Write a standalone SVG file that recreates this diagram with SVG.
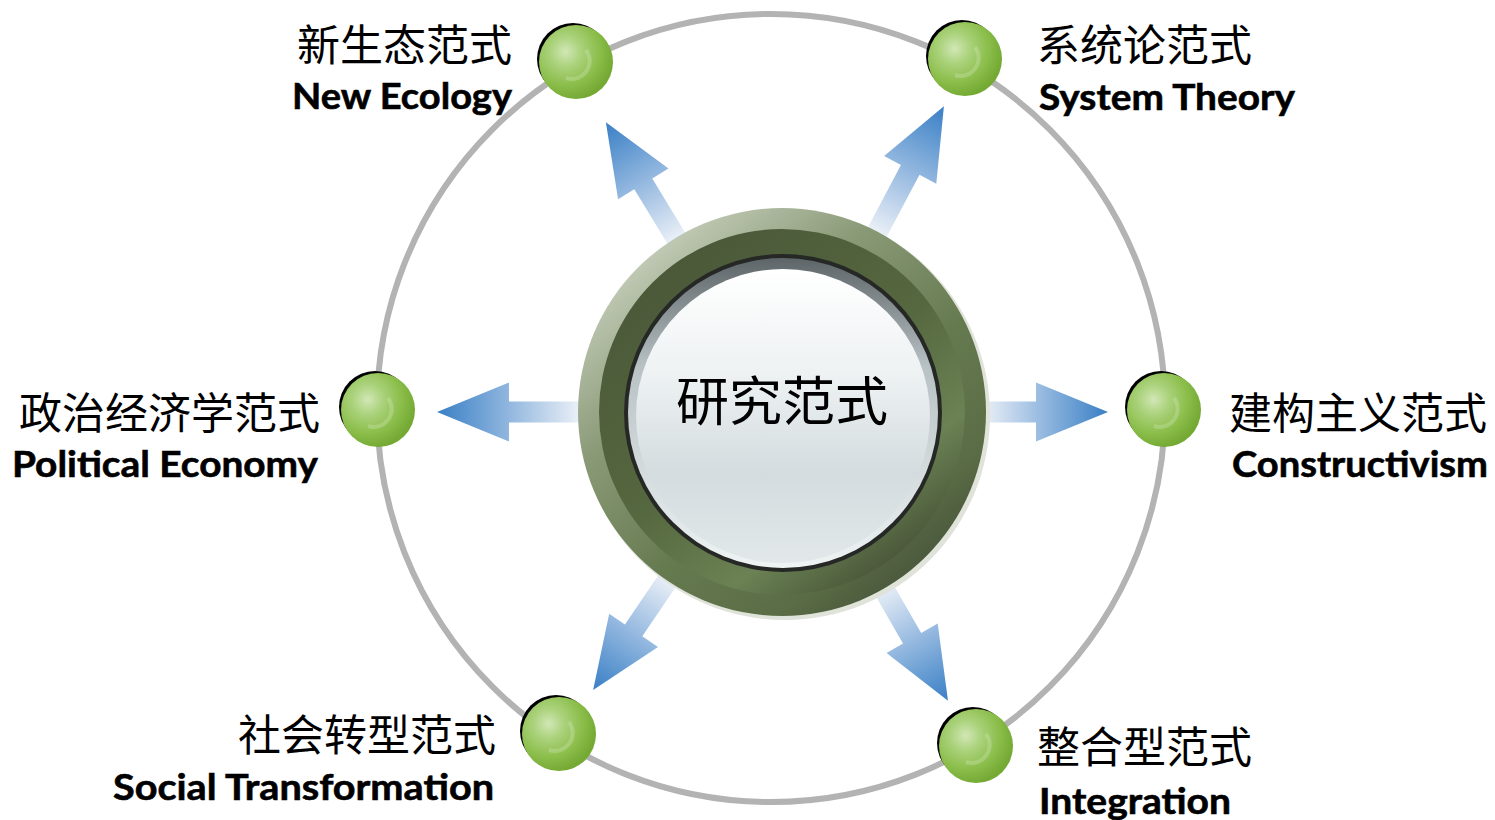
<svg xmlns="http://www.w3.org/2000/svg" width="1495" height="820" viewBox="0 0 1495 820">
<defs>
<style>
.zh{font-family:"Noto Sans CJK SC","Noto Sans",sans-serif;font-size:43px;fill:#000;}
.en{font-family:Lato,"Open Sans","Liberation Sans",sans-serif;font-weight:700;font-size:37px;fill:#000;stroke:#000;stroke-width:0.6;}
.arrow{fill:url(#ag);}
.shadow{fill:#000;}
.ball{fill:url(#bg);}
.crescent{fill:none;stroke:#d8ebc0;stroke-width:4;opacity:0.3;}
</style>
<linearGradient id="ag" x1="0" y1="0" x2="1" y2="0">
<stop offset="0" stop-color="#ffffff"/>
<stop offset="0.12" stop-color="#e3ebf5"/>
<stop offset="0.55" stop-color="#8fb5de"/>
<stop offset="0.75" stop-color="#689dd3"/>
<stop offset="1" stop-color="#3a7fc6"/>
</linearGradient>
<radialGradient id="bg" cx="0.36" cy="0.36" r="0.66">
<stop offset="0" stop-color="#d2e7b6"/>
<stop offset="0.3" stop-color="#acd37e"/>
<stop offset="0.7" stop-color="#8abd49"/>
<stop offset="1" stop-color="#74a934"/>
</radialGradient>
<linearGradient id="ring1" x1="0.15" y1="0.08" x2="0.85" y2="0.92">
<stop offset="0" stop-color="#c8d0bd"/>
<stop offset="0.3" stop-color="#8a9a77"/>
<stop offset="0.6" stop-color="#667a50"/>
<stop offset="0.85" stop-color="#5a6c45"/>
<stop offset="1" stop-color="#46533a"/>
</linearGradient>
<linearGradient id="ring2" x1="0.2" y1="0.1" x2="0.8" y2="0.9">
<stop offset="0" stop-color="#4b5939"/>
<stop offset="0.5" stop-color="#56683f"/>
<stop offset="0.8" stop-color="#6b8254"/>
<stop offset="1" stop-color="#4c5a3b"/>
</linearGradient>
<linearGradient id="bevel" x1="0" y1="0" x2="0" y2="1">
<stop offset="0" stop-color="#5d6568"/>
<stop offset="0.35" stop-color="#b8c1c4"/>
<stop offset="1" stop-color="#eef3f4"/>
</linearGradient>
<linearGradient id="face" x1="0" y1="0" x2="0" y2="1">
<stop offset="0" stop-color="#ffffff"/>
<stop offset="0.35" stop-color="#eef2f3"/>
<stop offset="0.7" stop-color="#d4dcdf"/>
<stop offset="1" stop-color="#e2e8ea"/>
</linearGradient>
</defs>
<rect width="1495" height="820" fill="#ffffff"/>

<circle id="orbit" cx="771" cy="408" r="394" fill="none" stroke="#b3b3b3" stroke-width="6"/>

<g id="connectors">
<polygon class="arrow" transform="translate(782 412) rotate(180)" points="190,-10.5 273,-10.5 273,-29.5 345,0 273,29.5 273,10.5 190,10.5"/>
<polygon class="arrow" transform="translate(782 412) rotate(0)" points="190,-10.5 254,-10.5 254,-29.5 326,0 254,29.5 254,10.5 190,10.5"/>
<polygon class="arrow" transform="translate(782 412) rotate(-121.3)" points="190,-10.5 267,-10.5 267,-29.5 339,0 267,29.5 267,10.5 190,10.5"/>
<polygon class="arrow" transform="translate(782 412) rotate(-62.1)" points="190,-10.5 274,-10.5 274,-29.5 346,0 274,29.5 274,10.5 190,10.5"/>
<polygon class="arrow" transform="translate(782 412) rotate(124.2)" points="190,-10.5 264,-10.5 264,-29.5 336,0 264,29.5 264,10.5 190,10.5"/>
<polygon class="arrow" transform="translate(782 412) rotate(60.1)" points="190,-10.5 261,-10.5 261,-29.5 333,0 261,29.5 261,10.5 190,10.5"/>
</g>

<g id="center">
<circle cx="785" cy="415" r="205" fill="#dfe3da"/>
<circle cx="782" cy="412" r="204" fill="url(#ring1)"/>
<circle cx="782" cy="412" r="183" fill="url(#ring2)"/>
<circle cx="783" cy="413" r="159" fill="#262826"/>
<circle cx="783" cy="413" r="155" fill="url(#bevel)"/>
<circle cx="783" cy="416" r="147" fill="url(#face)"/>
<text x="782" y="421" text-anchor="middle" style="font-family:'Noto Sans CJK SC',sans-serif;font-size:53px;fill:#000;">研究范式</text>
</g>

<g id="n-ecology">
<circle class="shadow" cx="573" cy="59" r="36"/>
<circle class="ball" cx="576" cy="62" r="37"/>
<path class="crescent" d="M586,50 A18,18 0 0 1 566,78"/>
<text class="zh" x="512" y="61" text-anchor="end">新生态范式</text>
<text class="en" x="512" y="109" text-anchor="end" textLength="220" lengthAdjust="spacingAndGlyphs">New Ecology</text>
</g>

<g id="n-system">
<circle class="shadow" cx="962" cy="56" r="36"/>
<circle class="ball" cx="965" cy="59" r="37"/>
<path class="crescent" d="M975,47 A18,18 0 0 1 955,75"/>
<text class="zh" x="1037" y="61">系统论范式</text>
<text class="en" x="1039" y="110" textLength="256" lengthAdjust="spacingAndGlyphs">System Theory</text>
</g>

<g id="n-political">
<circle class="shadow" cx="375" cy="407" r="36"/>
<circle class="ball" cx="378" cy="410" r="37"/>
<path class="crescent" d="M388,398 A18,18 0 0 1 368,426"/>
<text class="zh" x="320" y="429" text-anchor="end">政治经济学范式</text>
<text class="en" x="318" y="477" text-anchor="end" textLength="306" lengthAdjust="spacingAndGlyphs">Political Economy</text>
</g>

<g id="n-constructivism">
<circle class="shadow" cx="1161" cy="407" r="36"/>
<circle class="ball" cx="1164" cy="410" r="37"/>
<path class="crescent" d="M1174,398 A18,18 0 0 1 1154,426"/>
<text class="zh" x="1229" y="429">建构主义范式</text>
<text class="en" x="1232" y="477" textLength="256" lengthAdjust="spacingAndGlyphs">Constructivism</text>
</g>

<g id="n-social">
<circle class="shadow" cx="556" cy="731" r="36"/>
<circle class="ball" cx="559" cy="734" r="37"/>
<path class="crescent" d="M569,722 A18,18 0 0 1 549,750"/>
<text class="zh" x="496" y="751" text-anchor="end">社会转型范式</text>
<text class="en" x="494" y="800" text-anchor="end" textLength="381" lengthAdjust="spacingAndGlyphs">Social Transformation</text>
</g>

<g id="n-integration">
<circle class="shadow" cx="973" cy="743" r="36"/>
<circle class="ball" cx="976" cy="746" r="37"/>
<path class="crescent" d="M986,734 A18,18 0 0 1 966,762"/>
<text class="zh" x="1037" y="763">整合型范式</text>
<text class="en" x="1039" y="814" textLength="192" lengthAdjust="spacingAndGlyphs">Integration</text>
</g>
</svg>
